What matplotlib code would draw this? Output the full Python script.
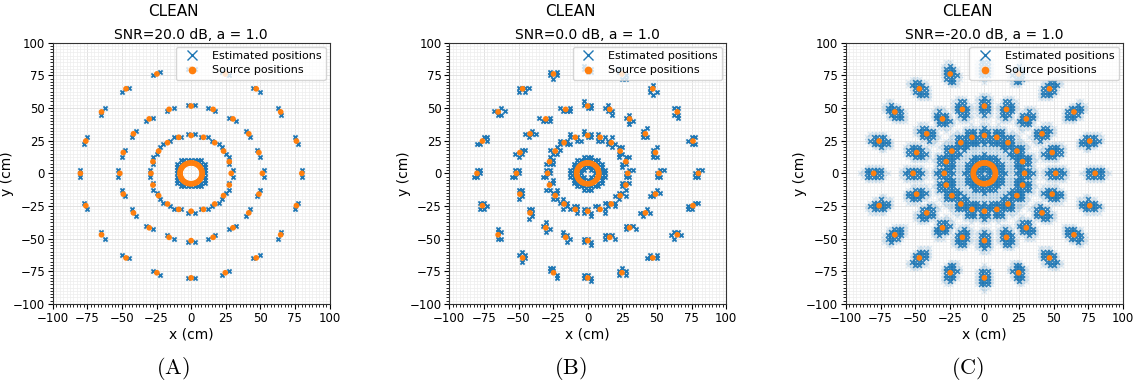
import numpy as np
import matplotlib
matplotlib.use("Agg")
import matplotlib.pyplot as plt
from matplotlib.lines import Line2D
from matplotlib.ticker import MultipleLocator

plt.rcParams["mathtext.fontset"] = "cm"

# ---- source layout: concentric rings of evenly spaced sources (cm) ----
ring_radii = [8.0, 29.0, 51.5, 80.0]
ring_counts = [40, 20, 20, 20]

# ---- panel settings ----
panel_letters = ["A", "B", "C"]
snr_db = [20.0, 0.0, -20.0]
a_values = [1.0, 1.0, 1.0]
method = "CLEAN"

# estimation grid step (cm)
grid_step = 2.5

# estimate offsets around each source, (tangential, radial) in cm
est_offsets_outer = {
    "A": [(-2.5, 0.0), (2.5, 0.0)],
    "B": [(-2.5, 0.0), (2.5, 0.0), (-2.5, -2.5), (2.5, 2.5), (0.0, -2.5)],
}
est_offsets_inner = {
    "A": [(-2.5, 2.5), (2.5, 2.5), (0.0, 3.0)],
    "B": [(0.0, 3.5), (0.0, -3.0), (-2.5, 3.0)],
}
# low-SNR spread of the estimates: (radial, tangential) half-widths and alpha
spread_levels_c = [(10.5, 7.0, 0.14), (7.0, 4.5, 0.85)]

BLUE = "#1f77b4"
ORANGE = "#ff7f0e"


def ring_positions():
    xs, ys, rs = [], [], []
    for r, n in zip(ring_radii, ring_counts):
        ang = np.deg2rad(np.arange(n) * 360.0 / n)
        xs.append(r * np.sin(ang))
        ys.append(r * np.cos(ang))
        rs.append(np.full(n, r))
    return np.concatenate(xs), np.concatenate(ys), np.concatenate(rs)


def snap(v):
    return np.round(np.asarray(v) / grid_step) * grid_step


def offset_estimates(sx, sy, sr, letter):
    pts = set()
    inner = ring_radii[0]
    for x, y, r in zip(sx, sy, sr):
        u = np.array([x, y]) / r
        t = np.array([-u[1], u[0]])
        offs = est_offsets_inner[letter] if r == inner else est_offsets_outer[letter]
        for dt, dr in offs:
            p = np.array([x, y]) + dt * t + dr * u
            pts.add((float(snap(p[0])), float(snap(p[1]))))
    arr = np.array(sorted(pts))
    return arr[:, 0], arr[:, 1]


def spread_estimates(sx, sy, sr):
    g = np.arange(-100, 100 + grid_step, grid_step)
    gx, gy = np.meshgrid(g, g)
    gx, gy = gx.ravel(), gy.ravel()
    out = []
    for ar, at, alpha in spread_levels_c:
        best = np.full(gx.shape, np.inf)
        for x, y, r in zip(sx, sy, sr):
            ux, uy = x / r, y / r
            dx, dy = gx - x, gy - y
            dr = dx * ux + dy * uy
            dt = -dx * uy + dy * ux
            e = np.sqrt((dr / ar) ** 2 + (dt / at) ** 2)
            best = np.minimum(best, e)
        m = best <= 1.0
        out.append((gx[m], gy[m], alpha))
    return out


sx, sy, sr = ring_positions()

fig = plt.figure(figsize=(11.37, 3.90), dpi=100)
ax_lefts = [52.7, 449.3, 846.0]
ax_w, ax_h = 276.8, 261.3
ax_bottom = 390 - 304.0
caption_x = [173.0, 570.5, 967.5]

for i, letter in enumerate(panel_letters):
    ax = fig.add_axes([ax_lefts[i] / 1137, ax_bottom / 390, ax_w / 1137, ax_h / 390])
    ax.set_xlim(-100, 100)
    ax.set_ylim(-100, 100)
    ax.xaxis.set_major_locator(MultipleLocator(25))
    ax.yaxis.set_major_locator(MultipleLocator(25))
    ax.xaxis.set_minor_locator(MultipleLocator(grid_step))
    ax.yaxis.set_minor_locator(MultipleLocator(grid_step))
    ax.grid(which="major", color="#dddddd", linewidth=0.6)
    ax.grid(which="minor", color="#ededed", linewidth=0.5)
    ax.set_axisbelow(True)
    ax.tick_params(labelsize=8.5, length=3.5, width=0.8, pad=2)
    ax.tick_params(which="minor", length=2, width=0.6)
    for sp in ax.spines.values():
        sp.set_linewidth(0.8)
        sp.set_color("#333333")

    if letter == "C":
        for ex, ey, alpha in spread_estimates(sx, sy, sr):
            ax.scatter(ex, ey, marker="x", s=12, color=BLUE, alpha=alpha,
                       linewidths=1.1, zorder=2)
    else:
        ex, ey = offset_estimates(sx, sy, sr, letter)
        ax.scatter(ex, ey, marker="x", s=9, color=BLUE, linewidths=1.3, zorder=2)

    ax.scatter(sx, sy, marker="o", s=17, color=ORANGE, edgecolors="none", zorder=3)

    ax.set_xlabel("x (cm)", fontsize=10, labelpad=2)
    ax.set_ylabel("y (cm)", fontsize=10)
    ax.yaxis.set_label_coords(-0.14, 0.5)
    ax.set_title(f"SNR={snr_db[i]:.1f} dB, a = {a_values[i]:.1f}", fontsize=10, pad=3)

    handles = [
        Line2D([], [], linestyle="none", marker="x", markersize=7, color=BLUE,
               markeredgewidth=1.0),
        Line2D([], [], linestyle="none", marker="o", markersize=5.5, color=ORANGE,
               markeredgewidth=0),
    ]
    ax.legend(handles, ["Estimated positions", "Source positions"], loc="upper right",
              fontsize=8, handletextpad=0.8, borderpad=0.4, labelspacing=0.4,
              borderaxespad=0.35, framealpha=0.8)

    fig.text(caption_x[i] / 1137, 1 - 11.0 / 390, method, ha="center", va="center",
             fontsize=11)
    fig.text(caption_x[i] / 1137, 1 - 369.0 / 390, rf"$(\mathrm{{{letter}}})$",
             ha="center", va="center", fontsize=16)

fig.savefig("out.png", dpi=100)
